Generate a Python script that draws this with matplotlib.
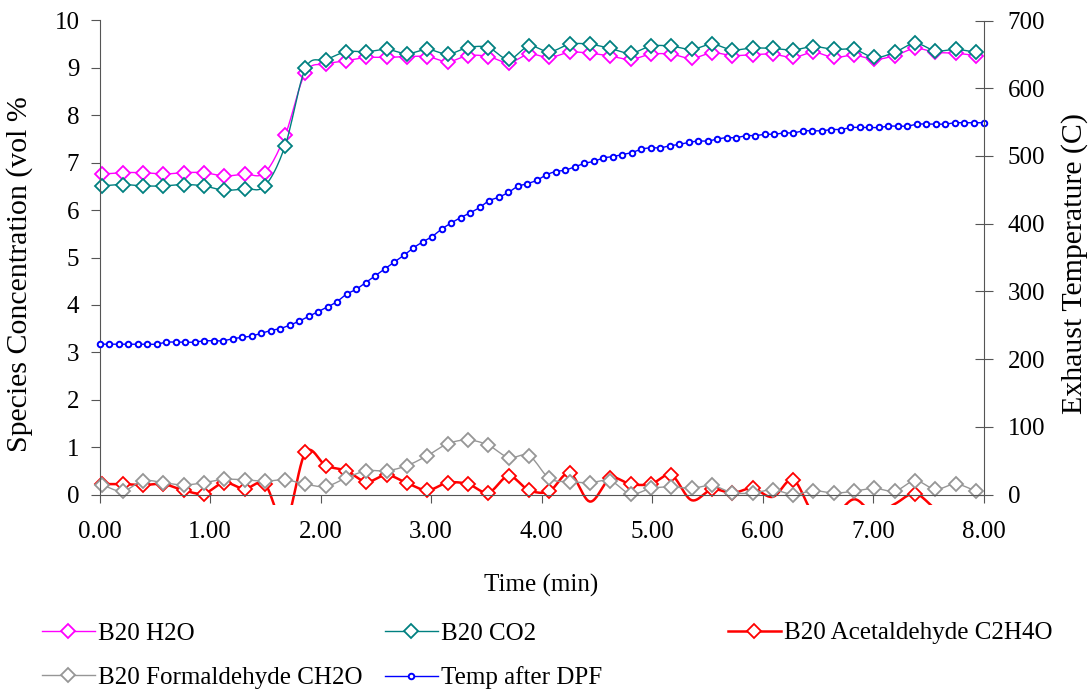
import matplotlib.pyplot as plt
import numpy as np
from matplotlib.lines import Line2D
from matplotlib.patches import Rectangle

plt.rcParams['font.family'] = ['Liberation Serif', 'DejaVu Serif']
plt.rcParams['font.size'] = 18

# FTIR species sampled every ~11 s, DPF outlet temperature every ~5 s
t_ftir = 0.025 + np.arange(44) * 0.1839
t_temp = np.linspace(0, 8, 94)

h2o = [6.76, 6.79, 6.79, 6.76, 6.79, 6.79, 6.72, 6.76, 6.79, 7.58,
       8.90, 9.08, 9.15, 9.22, 9.22, 9.24, 9.24, 9.13, 9.26, 9.24,
       9.11, 9.29, 9.22, 9.33, 9.31, 9.25, 9.18, 9.29, 9.29, 9.20,
       9.32, 9.26, 9.28, 9.29, 9.22, 9.33, 9.22, 9.27, 9.18, 9.26,
       9.41, 9.33, 9.31, 9.26]
co2 = [6.51, 6.54, 6.51, 6.51, 6.54, 6.51, 6.42, 6.45, 6.51, 7.36,
       8.99, 9.17, 9.34, 9.34, 9.39, 9.30, 9.39, 9.29, 9.43, 9.43,
       9.18, 9.46, 9.34, 9.50, 9.50, 9.41, 9.31, 9.46, 9.46, 9.39,
       9.50, 9.38, 9.42, 9.41, 9.38, 9.45, 9.39, 9.39, 9.22, 9.33,
       9.52, 9.36, 9.39, 9.33]
acetaldehyde = [0.22, 0.22, 0.20, 0.22, 0.09, 0.02, 0.25, 0.12, 0.22, -0.60,
                0.89, 0.61, 0.50, 0.27, 0.41, 0.24, 0.09, 0.25, 0.22, 0.04,
                0.39, 0.09, 0.07, 0.45, -0.15, 0.34, 0.22, 0.22, 0.41, -0.12,
                0.11, 0.03, 0.13, -0.05, 0.31, -0.40, -0.45, -0.10, -0.40, -0.20,
                0.02, -0.30, -0.50, -0.50]
formaldehyde = [0.20, 0.07, 0.29, 0.25, 0.20, 0.25, 0.32, 0.31, 0.28, 0.31,
                0.22, 0.17, 0.35, 0.50, 0.50, 0.61, 0.82, 1.07, 1.15, 1.04,
                0.78, 0.82, 0.34, 0.27, 0.25, 0.29, 0.01, 0.13, 0.16, 0.13,
                0.19, 0.04, 0.03, 0.10, 0.00, 0.08, 0.03, 0.07, 0.13, 0.07,
                0.29, 0.11, 0.22, 0.07]
temp_dpf = [222, 222, 222, 222, 222, 222, 222, 225, 225, 225,
            225, 227, 227, 227, 230, 232, 234, 238, 242, 245,
            250, 256, 263, 270, 277, 285, 296, 303, 313, 323,
            333, 343, 353, 364, 373, 381, 392, 401, 409, 416,
            424, 434, 439, 446, 455, 459, 464, 472, 477, 479,
            484, 489, 492, 497, 499, 502, 505, 510, 512, 512,
            515, 517, 520, 522, 522, 525, 527, 527, 530, 530,
            532, 532, 534, 534, 537, 537, 537, 539, 539, 542,
            542, 542, 542, 544, 544, 544, 547, 547, 547, 547,
            549, 549, 549, 549]


def smooth(x, y, n):
    # Catmull-Rom curve through the points (Excel style smoothed line)
    p = np.column_stack([x, y]).astype(float)
    ext = np.vstack([2 * p[0] - p[1], p, 2 * p[-1] - p[-2]])
    m = (ext[2:] - ext[:-2]) / 2
    s = np.linspace(0, 1, n, endpoint=False)[:, None]
    h00 = 2 * s**3 - 3 * s**2 + 1
    h10 = s**3 - 2 * s**2 + s
    h01 = -2 * s**3 + 3 * s**2
    h11 = s**3 - s**2
    segs = [h00 * p[i] + h10 * m[i] + h01 * p[i + 1] + h11 * m[i + 1]
            for i in range(len(p) - 1)]
    pts = np.vstack(segs + [p[-1:]])
    return pts[:, 0], pts[:, 1]


def draw(ax, x, y, color, marker, ms, lw, mew, n=12):
    xs, ys = smooth(x, y, n)
    # points below the axis keep their line but lose the marker
    keep = [i * n for i, v in enumerate(y) if v >= 0]
    line, = ax.plot(xs, ys, color=color, lw=lw, marker=marker, ms=ms,
                    mfc='white', mec=color, mew=mew, markevery=keep)
    line.set_clip_path(Rectangle((-0.008, -0.022), 1.016, 1.06,
                                 transform=ax.transAxes))
    return line


fig = plt.figure(figsize=(10.91, 6.89), dpi=100)
ax = fig.add_axes([99.5 / 1091, 1 - 494.5 / 689, 884 / 1091, 474 / 689])
ax2 = ax.twinx()

styles = [
    (h2o, '#FF00FF', 'D', 6.8, 1.0, 1.3, 'B20 H2O'),
    (co2, '#008080', 'D', 6.8, 1.0, 1.3, 'B20 CO2'),
    (acetaldehyde, '#FF0000', 'D', 6.8, 1.8, 1.3, 'B20 Acetaldehyde C2H4O'),
    (formaldehyde, '#969696', 'D', 6.8, 1.0, 1.3, 'B20 Formaldehyde CH2O'),
]
for vals, c, mk, ms, lw, mew, lab in styles:
    draw(ax, t_ftir, vals, c, mk, ms, lw, mew)
draw(ax2, t_temp, temp_dpf, '#0000FF', 'o', 4.0, 1.0, 1.4, n=6)

axis_grey = '#555555'
ax.set_xlim(0, 8)
ax.set_ylim(0, 10)
ax2.set_ylim(0, 700)
ax.set_xticks(range(9))
ax.set_xticklabels([f'{v:.2f}' for v in range(9)])
ax.set_yticks(range(11))
ax2.set_yticks(range(0, 701, 100))

for a in (ax, ax2):
    a.spines['top'].set_visible(False)
    for sp in a.spines.values():
        sp.set_color(axis_grey)
ax.spines['right'].set_visible(False)
ax2.spines['left'].set_visible(False)
ax2.spines['bottom'].set_visible(False)

ax.tick_params(axis='x', direction='out', length=6, color=axis_grey, pad=13)
ax.tick_params(axis='y', direction='out', length=6.5, color=axis_grey, pad=8)
ax2.tick_params(axis='y', direction='inout', length=13, color=axis_grey, pad=11)

fig.text(20 / 1091, 1 - 274 / 689, 'Species Concentration (vol %',
         rotation=90, ha='center', va='center', fontsize=21.5)
fig.text(1075 / 1091, 1 - 264 / 689, 'Exhaust Temperature (C)',
         rotation=90, ha='center', va='center', fontsize=21.5)
fig.text(541 / 1091, 1 - 585 / 689, 'Time (min)', ha='center', va='center')


def handle(color, marker, ms, lw, mew, label):
    return Line2D([], [], color=color, lw=lw, marker=marker, ms=ms,
                  mfc='white', mec=color, mew=mew, label=label)


h = [handle(c, mk, ms, lw, mew, lab) for _, c, mk, ms, lw, mew, lab in styles]
h.append(handle('#0000FF', 'o', 4.0, 1.0, 1.4, 'Temp after DPF'))

columns = [([h[0], h[3]], 42), ([h[1], h[4]], 385), ([h[2]], 728)]
for hs, x0 in columns:
    fig.legend(handles=hs, loc='upper left',
               bbox_to_anchor=(x0 / 1091, 1 - 622 / 689),
               frameon=False, borderpad=0, borderaxespad=0,
               handlelength=2.1, handletextpad=0.15, labelspacing=0.88,
               numpoints=1)

fig.savefig('out.png', dpi=100)
